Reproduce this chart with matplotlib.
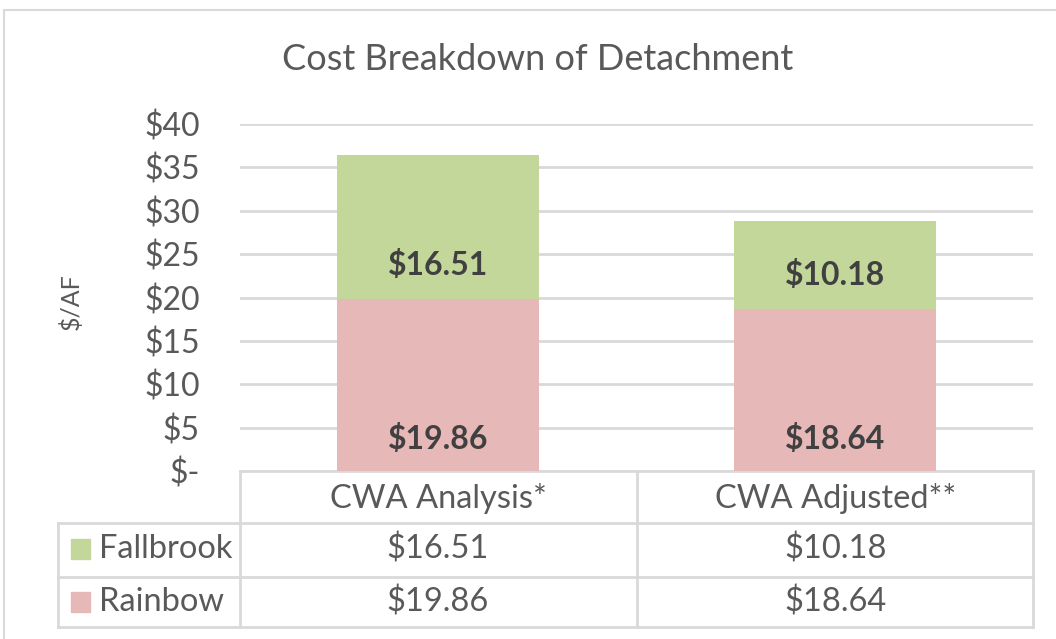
import matplotlib
matplotlib.use("Agg")
import matplotlib.pyplot as plt
from matplotlib.patches import Rectangle
from matplotlib.lines import Line2D

categories = ["CWA Analysis*", "CWA Adjusted**"]
rainbow = [19.86, 18.64]
fallbrook = [16.51, 10.18]
series_names = ["Fallbrook", "Rainbow"]
yticks = [0, 5, 10, 15, 20, 25, 30, 35, 40]
ytick_labels = ["$-", "$5", "$10", "$15", "$20", "$25", "$30", "$35", "$40"]
title = "Cost Breakdown of Detachment"
ylabel = "$/AF"

GREEN = "#c4d79b"
PINK = "#e6b8b7"
TXT = "#595959"
LBL = "#404040"
GRID = "#d9d9d9"
FONT = "Lato"

W, H = 1056, 639
fig = plt.figure(figsize=(W / 100, H / 100), dpi=100)
plt.rcParams['font.family'] = [FONT, 'DejaVu Sans']

def fx(px):
    return px / W

def fy(py):
    return 1 - py / H

# outer chart frame
fig.add_artist(Rectangle((fx(4), fy(660)), fx(1100), fy(10) - fy(660),
                         transform=fig.transFigure, fill=False,
                         edgecolor="#d9d9d9", linewidth=1.5))

ax_l, ax_r, ax_t, ax_b = 240, 1033, 124, 471
ax = fig.add_axes([fx(ax_l), fy(ax_b), fx(ax_r - ax_l), fy(ax_t) - fy(ax_b)])
x = [0, 1]
ax.bar(x, rainbow, width=0.51, color=PINK, zorder=3)
ax.bar(x, fallbrook, width=0.51, bottom=rainbow, color=GREEN, zorder=3)
ax.set_xlim(-0.5, 1.5)
ax.set_ylim(0, 40)
ax.set_yticks(yticks)
ax.set_yticklabels(ytick_labels)
ax.tick_params(axis='y', length=0, pad=29, labelsize=23, labelcolor=TXT)
ax.tick_params(axis='x', length=0, labelbottom=False)
ax.grid(axis='y', color=GRID, linewidth=2, zorder=0)
for s in ["top", "right", "left"]:
    ax.spines[s].set_visible(False)
ax.spines["bottom"].set_color(GRID)
ax.spines["bottom"].set_linewidth(2)
ax.set_ylabel(ylabel, fontsize=18, color=TXT)
ax.yaxis.set_label_coords(-0.214, 0.487)
ax.yaxis.label.set_verticalalignment('center')

for i in range(2):
    ax.annotate(f"${rainbow[i]:.2f}", (x[i], 0), xytext=(0, 23),
                textcoords="offset points", ha="center", va="center",
                fontsize=23, fontweight="bold", color=LBL, zorder=4)
    ax.annotate(f"${fallbrook[i]:.2f}", (x[i], rainbow[i]), xytext=(0, 24.5),
                textcoords="offset points", ha="center", va="center",
                fontsize=23, fontweight="bold", color=LBL, zorder=4)

fig.text(0.5 * (fx(275) + fx(800)), fy(59), title, ha="center", va="center",
         fontsize=26, color=TXT)

# data table
def hline(y, x0, x1):
    fig.add_artist(Line2D([fx(x0), fx(x1)], [fy(y), fy(y)], transform=fig.transFigure,
                          color=GRID, linewidth=2))

def vline(xp, y0, y1):
    fig.add_artist(Line2D([fx(xp), fx(xp)], [fy(y0), fy(y1)], transform=fig.transFigure,
                          color=GRID, linewidth=2))

hline(523, 58, 1033)
hline(577, 58, 1033)
hline(627, 58, 1033)
for xp in (240, 637, 1033):
    vline(xp, 471, 627)
vline(58, 523, 627)

col_centers = [438, 836]
for c, name in zip(col_centers, categories):
    fig.text(fx(c), fy(498), name, ha="center", va="center", fontsize=23.5, color=TXT)

rows = [(series_names[0], fallbrook, GREEN, 549), (series_names[1], rainbow, PINK, 602)]
for name, vals, col, yc in rows:
    fig.add_artist(Rectangle((fx(71), fy(yc + 10)), fx(19), fy(yc - 10) - fy(yc + 10),
                             transform=fig.transFigure, color=col))
    fig.text(fx(99), fy(yc), name, ha="left", va="center", fontsize=23.5, color=TXT)
    for c, v in zip(col_centers, vals):
        fig.text(fx(c), fy(yc), f"${v:.2f}", ha="center", va="center", fontsize=23.5, color=TXT)

fig.savefig("out.png", dpi=100)
